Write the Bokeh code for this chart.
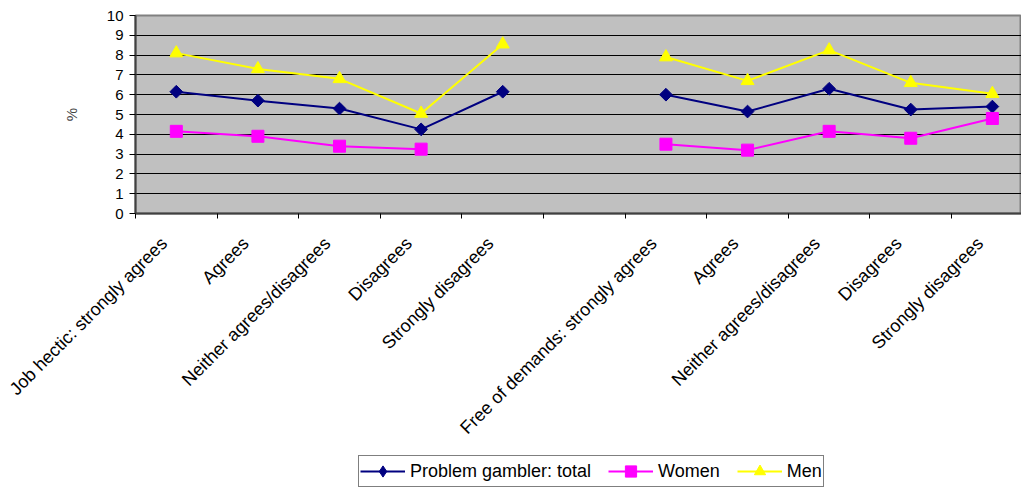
import math
from bokeh.plotting import figure
from bokeh.layouts import column
from bokeh.models import FixedTicker, Legend, LegendItem, Range1d
from bokeh.embed import file_html
from bokeh.resources import INLINE

nan = float("nan")

categories = ["Job hectic: strongly agrees", "Agrees", "Neither agrees/disagrees",
              "Disagrees", "Strongly disagrees", "",
              "Free of demands: strongly agrees", "Agrees", "Neither agrees/disagrees",
              "Disagrees", "Strongly disagrees"]
total = [6.15, 5.7, 5.3, 4.25, 6.15, nan, 6.0, 5.15, 6.3, 5.25, 5.4]
women = [4.15, 3.9, 3.4, 3.25, nan, nan, 3.5, 3.2, 4.15, 3.8, 4.8]
men = [8.1, 7.3, 6.8, 5.05, 8.55, nan, 7.9, 6.7, 8.25, 6.6, 6.05]
y_ticks = list(range(0, 11))

FONT = "Liberation Sans"
xs = [i + 0.5 for i in range(len(categories))]
boundaries = list(range(len(categories) + 1))
# label anchors sit slightly left of the category centre (as in the original)
label_pos = [round(x - 0.15, 3) for x in xs]

p = figure(width=1021, height=448, output_backend="svg", toolbar_location=None,
           x_range=Range1d(0, 10.857), y_range=Range1d(0, 10),
           min_border_left=135, min_border_top=15, min_border_bottom=235, min_border_right=0)
p.background_fill_color = "#C0C0C0"
p.border_fill_color = "white"
p.outline_line_color = "#808080"
p.outline_line_width = 2

# y axis
p.yaxis.ticker = FixedTicker(ticks=y_ticks)
p.yaxis.axis_label = "%"
p.yaxis.axis_label_text_font = FONT
p.yaxis.axis_label_text_font_size = "15px"
p.yaxis.axis_label_text_font_style = "normal"
p.yaxis.axis_label_standoff = 24
p.yaxis.major_label_text_font = FONT
p.yaxis.major_label_text_font_size = "15px"
p.yaxis.major_label_text_color = "black"
p.yaxis.major_tick_out = 6
p.yaxis.major_tick_in = 0
p.yaxis.major_tick_line_color = "black"
p.yaxis.minor_tick_line_color = None
p.yaxis.axis_line_color = "#404040"
p.yaxis.axis_line_width = 2
p.yaxis.major_label_standoff = 6

# x axis
p.xaxis.ticker = FixedTicker(ticks=label_pos, minor_ticks=boundaries)
p.xaxis.major_label_overrides = {x: c for x, c in zip(label_pos, categories)}
p.xaxis.major_label_orientation = math.pi / 4
p.xaxis.major_label_text_font = FONT
p.xaxis.major_label_text_font_size = "18px"
p.xaxis.major_label_text_color = "black"
p.xaxis.major_tick_out = 0
p.xaxis.major_tick_in = 0
p.xaxis.minor_tick_out = 5
p.xaxis.minor_tick_in = 0
p.xaxis.minor_tick_line_color = "black"
p.xaxis.axis_line_color = "#404040"
p.xaxis.axis_line_width = 2
p.xaxis.major_label_standoff = 22

p.xgrid.visible = False
p.ygrid.ticker = FixedTicker(ticks=y_ticks)
p.ygrid.grid_line_color = "black"
p.ygrid.grid_line_width = 1

series = [
    ("Problem gambler: total", total, "#000080",
     dict(marker="square", angle=math.pi / 4, size=9), dict(marker="diamond", size=13)),
    ("Women", women, "#FF00FF", dict(marker="square", size=12), dict(marker="square", size=12)),
    ("Men", men, "#FFFF00", dict(marker="triangle", size=13), dict(marker="triangle", size=13)),
]

# legend strip (separate small figure below the chart; its data lie outside its view)
lg = figure(width=1021, height=39, output_backend="svg", toolbar_location=None,
            x_range=Range1d(0, 1), y_range=Range1d(100, 101),
            min_border=0, x_axis_type=None, y_axis_type=None)
lg.outline_line_color = None
lg.background_fill_color = "white"
lg.border_fill_color = "white"
lg.xgrid.visible = False
lg.ygrid.visible = False

items = []
for label, vals, color, mk, lmk in series:
    p.line(xs, vals, line_color=color, line_width=2)
    p.scatter(xs, vals, fill_color=color, line_color=color, **mk)
    lr = lg.line(xs, vals, line_color=color, line_width=2)
    sr = lg.scatter(xs, vals, fill_color=color, line_color=color, **lmk)
    items.append(LegendItem(label=label, renderers=[lr, sr]))

legend = Legend(items=items, orientation="horizontal", location=(223, 0),
                glyph_width=45, glyph_height=28, label_standoff=5, spacing=17,
                padding=1, margin=0, border_line_color="black", border_line_width=1,
                label_text_font=FONT, label_text_font_size="18px",
                label_text_color="black", background_fill_color="white",
                background_fill_alpha=1)
lg.add_layout(legend, "center")

layout = column(p, lg, spacing=0)
open("out.html", "w").write(file_html(layout, INLINE))
